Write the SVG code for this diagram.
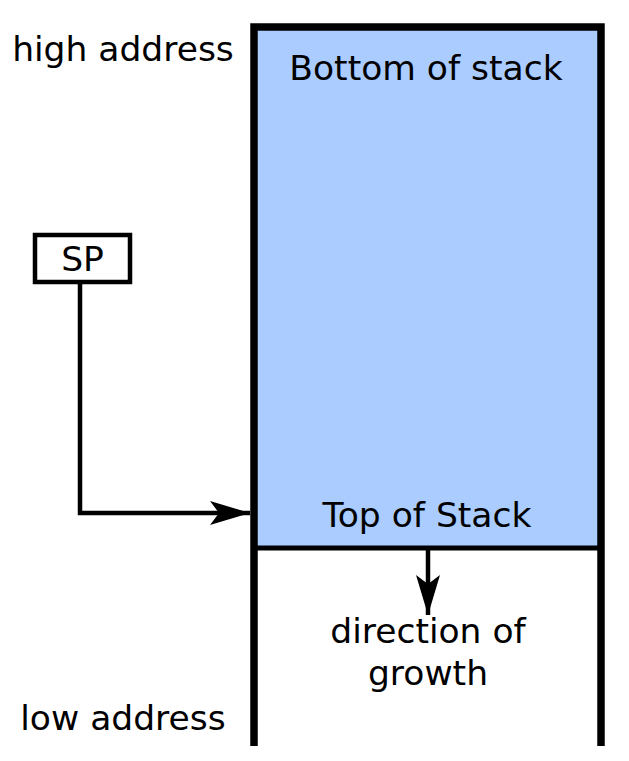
<svg xmlns="http://www.w3.org/2000/svg" width="629" height="761" viewBox="0 0 629 761">
<style>
text{font-family:"DejaVu Sans","Liberation Sans",sans-serif;font-size:34.5px;fill:#000}
.ln{fill:none;stroke:#000}
</style>
<defs>
<marker id="ah2" viewBox="0 0 40 24" refX="40" refY="12" markerWidth="40" markerHeight="24" orient="auto" markerUnits="userSpaceOnUse">
<path d="M0,0 L40,12 L0,24 L9,12 Z" fill="#000"/>
</marker>
</defs>
<rect width="629" height="761" fill="#fff"/>
<g id="stack">
<rect x="254" y="27" width="347" height="521" fill="#aaccff"/>
<path class="ln" d="M254,746 V27 H601 V746" stroke-width="7.5"/>
<line class="ln" x1="254" y1="548" x2="601" y2="548" stroke-width="5"/>
<text x="426" y="80" text-anchor="middle">Bottom of stack</text>
<text x="427" y="527" text-anchor="middle">Top of Stack</text>
</g>
<g id="labels">
<text x="123" y="61" text-anchor="middle">high address</text>
<text x="123" y="730" text-anchor="middle">low address</text>
<text x="428" y="643" text-anchor="middle">direction of</text>
<text x="428" y="685" text-anchor="middle">growth</text>
</g>
<g id="sp">
<rect x="35" y="235" width="95" height="47" fill="#fff" stroke="#000" stroke-width="4.5"/>
<text x="82.5" y="271" text-anchor="middle">SP</text>
</g>
<g id="connectors">
<path class="ln" d="M80,282 V513 H250" stroke-width="4.5" marker-end="url(#ah2)"/>
<path class="ln" d="M428,550 V615" stroke-width="4.5" marker-end="url(#ah2)"/>
</g>
</svg>
